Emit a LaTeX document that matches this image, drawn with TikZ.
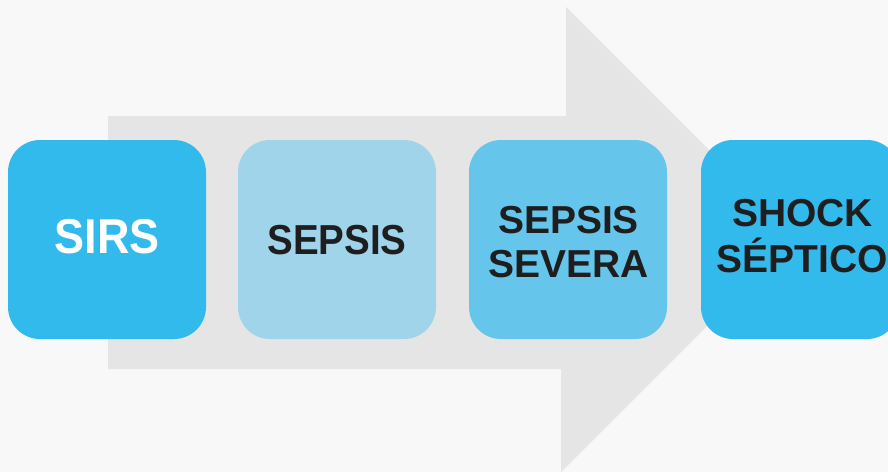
\documentclass[tikz,border=0pt]{standalone}
\usepackage{fontspec}
\setmainfont{Liberation Sans}
\newfontfamily\narF{Liberation Sans}[FakeStretch=0.92]
\newfontfamily\regF{Liberation Sans}
\definecolor{bgc}{HTML}{F8F8F8}
\definecolor{arrowc}{HTML}{E5E5E5}
\definecolor{bluec}{HTML}{33BAEC}
\definecolor{paleblue}{HTML}{A0D4EA}
\definecolor{midblue}{HTML}{66C5EA}
\definecolor{txtdark}{HTML}{1E1E1E}
\tikzset{
  stagebox/.style={draw=none, rounded corners=32pt, minimum width=198pt, minimum height=199pt, inner sep=0pt},
  biglbl/.style={anchor=base, inner sep=0pt, font=\narF\bfseries\fontsize{48.9}{50}\selectfont},
  midlbl/.style={anchor=base, inner sep=0pt, font=\narF\bfseries\fontsize{41.9}{44}\selectfont},
  smalllbl/.style={anchor=base, inner sep=0pt, font=\regF\bfseries\fontsize{39}{42}\selectfont}
}
\begin{document}
\begin{tikzpicture}[x=1pt,y=-1pt]
\useasboundingbox (0,0) rectangle (888,472);
\fill[bgc] (0,0) rectangle (888,472);
% big arrow
\fill[arrowc] (108,116) -- (566,116) -- (566,7) -- (796,237) -- (561,472) -- (561,369) -- (108,369) -- cycle;
% boxes
\node[stagebox, fill=bluec] (sirs) at (107,239.5) {};
\node[stagebox, fill=paleblue] (sepsis) at (337,239.5) {};
\node[stagebox, fill=midblue] (severa) at (568,239.5) {};
\node[stagebox, fill=bluec] (shock) at (800,239.5) {};
% labels
\node[biglbl, text=white] (tsirs) at (107,253) {SIRS};
\node[midlbl, text=txtdark] (tsepsis) at (337,254) {SEPSIS};
\node[smalllbl, text=txtdark] (tsev1) at (568.5,233) {SEPSIS};
\node[smalllbl, text=txtdark] (tsev2) at (568.5,277) {SEVERA};
\node[smalllbl, text=txtdark] (tsh1) at (802.5,226.5) {SHOCK};
\node[smalllbl, text=txtdark] (tsh2) at (802,272) {SÉPTICO};
\end{tikzpicture}
\end{document}
